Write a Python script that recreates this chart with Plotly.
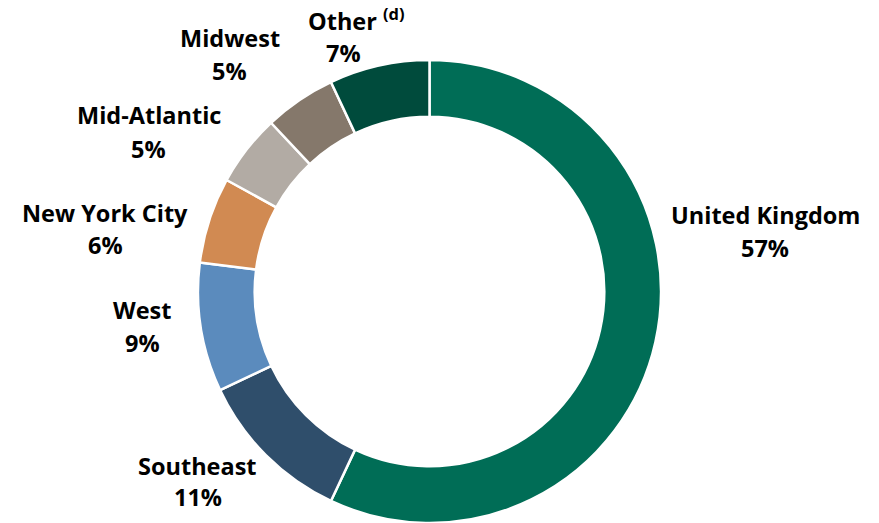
import plotly.graph_objects as go

categories = ["United Kingdom", "Southeast", "West", "New York City", "Mid-Atlantic", "Midwest", "Other"]
name_texts = ["United Kingdom", "Southeast", "West", "New York City", "Mid-Atlantic", "Midwest", "Other <sup>(d)</sup>"]
values = [57, 11, 9, 6, 5, 5, 7]
colors = ["#006D56", "#2F4E6B", "#5B8BBD", "#D18A52", "#B2ABA4", "#85786B", "#004B3C"]

W, H = 879, 523
# label anchor positions in pixels (name line center, percent line center)
name_pos = [(765, 215), (197, 466), (142, 310), (105, 213), (149, 115), (230, 38), (356, 20)]
pct_pos = [(765, 248), (198, 497), (142, 343), (105, 245), (148, 149), (229, 71), (343, 53)]

fig = go.Figure(go.Pie(
    labels=categories,
    values=values,
    marker=dict(colors=colors, line=dict(color="white", width=2.5)),
    hole=0.755,
    sort=False,
    direction="clockwise",
    rotation=0,
    textinfo="none",
    hoverinfo="label+percent",
    domain=dict(x=[197 / W, 662 / W], y=[0, (H - 60) / H]),
    showlegend=False,
))

font = dict(family="Open Sans", size=23.5, color="#000000")
anns = []
for nm, v, (nx, ny), (px, py) in zip(name_texts, values, name_pos, pct_pos):
    anns.append(dict(x=nx / W, y=1 - ny / H, xref="paper", yref="paper", text=f"<b>{nm}</b>",
                     showarrow=False, xanchor="center", yanchor="middle", font=font))
    anns.append(dict(x=px / W, y=1 - py / H, xref="paper", yref="paper", text=f"<b>{v}%</b>",
                     showarrow=False, xanchor="center", yanchor="middle", font=font))

fig.update_layout(
    width=W, height=H,
    margin=dict(l=0, r=0, t=0, b=0),
    paper_bgcolor="white",
    plot_bgcolor="white",
    annotations=anns,
)

fig.write_html("out.html")
